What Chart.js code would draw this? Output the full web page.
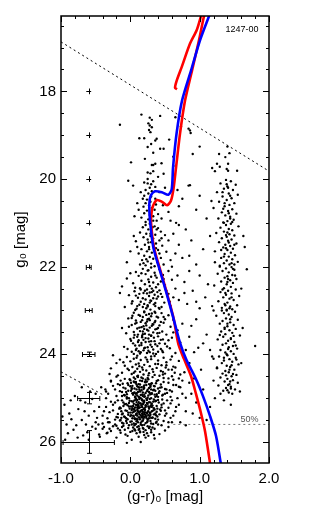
<!DOCTYPE html>
<html>
<head>
<meta charset="utf-8">
<script src="https://cdn.jsdelivr.net/npm/chart.js@4.4.1/dist/chart.umd.min.js"></script>
<style>
  html, body { margin: 0; padding: 0; background: #fff; }
  #wrap { width: 311px; height: 518px; }
</style>
</head>
<body>
<div id="wrap"><canvas id="cmd"></canvas></div>
<script>
// --- axis ranges / ticks ---
const xRange = [-1.0, 2.0];
const yRange = [16.28, 26.48];
const xTickValues = [-1, 0, 1, 2];
const yTickValues = [18, 20, 22, 24, 26];

// --- isochrones (colour, magnitude) ---
const redColor = [1.165,1.150,1.078,1.020,0.948,0.876,0.775,0.693,0.623,0.530,0.436,0.342,0.299,0.306,0.328,0.385,0.457,0.530,0.587,0.623,0.659,0.717,0.789,0.890,0.991,1.063,1.107,1.078,1.020,0.958,0.861,0.742,0.670,0.645,0.674];
const redMag = [26.67,26.49,25.76,25.35,24.91,24.50,24.11,23.77,23.17,22.62,22.10,21.57,21.00,20.77,20.61,20.48,20.52,20.60,20.49,20.22,19.74,18.96,18.21,17.52,16.83,16.28,16.05,15.96,16.28,16.60,16.91,17.44,17.75,17.92,17.95];
const blueColor = [1.323,1.237,1.150,1.049,0.948,0.804,0.717,0.620,0.525,0.429,0.332,0.284,0.274,0.294,0.356,0.453,0.548,0.597,0.616,0.667,0.746,0.876,1.006,1.136,1.179];
const blueMag = [26.67,25.87,25.41,24.96,24.57,24.11,23.74,23.17,22.62,22.10,21.56,20.95,20.57,20.38,20.28,20.30,20.36,20.23,19.74,18.96,18.21,17.52,16.83,16.28,16.10];

// --- dashed selection / completeness lines ---
const upperCut = [[-1.0, 16.87], [2.0, 19.82]];
const lowerCut = [[-1.0, 24.40], [-0.40, 24.92]];
const limit50 = [[0.62, 25.60], [2.0, 25.60]];

// --- photometric error bars at g-r = -0.6 ---
const errColor = -0.6;
const errMag = [18, 19, 20, 21, 22, 23, 24, 25, 26];
const errDx = [0.035, 0.035, 0.035, 0.035, 0.035, 0.05, 0.09, 0.16, 0.37];
const errDy = [0.065, 0.065, 0.065, 0.06, 0.05, 0.04, 0.05, 0.13, 0.26];

// --- stars, (g-r, g) pairs, grouped by region ---
const upperStars = [0.16,18.53,0.28,18.60,0.31,18.65,0.43,18.56,-0.15,18.76,0.26,18.73,0.28,18.78,0.31,18.82,0.27,18.88,0.29,18.93,0.13,19.07,0.20,19.07,0.36,19.12,0.38,19.08,0.65,18.59,0.73,18.80,0.84,18.85,0.86,18.89,0.87,18.95,1.00,19.26,0.43,19.31,0.48,19.31,0.25,19.27,0.62,19.49,0.90,19.43,0.01,19.62,0.21,19.54,0.31,19.68,0.33,19.68,0.36,19.65,0.45,19.64,0.25,19.85,0.29,19.87,0.33,19.82,0.48,19.88,0.64,19.92,-0.03,20.04,1.40,19.26,1.28,19.43,1.37,19.50,1.43,19.41,1.18,19.75,1.22,19.82,1.25,19.65,1.29,19.72,1.39,19.77,1.41,19.65,1.41,19.81,1.54,19.81,0.33,19.40,0.30,19.20,0.56,19.10,0.40,19.95,0.62,19.70];
const msStars20 = [0.04,20.15,0.84,20.15,0.86,20.14,1.00,20.38,0.20,20.08,0.25,20.10,0.30,20.12,0.33,20.05,0.36,20.18,0.28,20.20,0.22,20.25,0.31,20.28,0.26,20.33,0.20,20.38,0.18,20.45,0.24,20.47,0.29,20.52,0.22,20.55,0.27,20.60,0.19,20.63,0.31,20.66,0.35,20.70,0.24,20.72,0.20,20.78,0.28,20.82,0.33,20.85,0.40,20.80,0.16,20.88,0.26,20.92,0.38,20.95,0.22,20.98,0.47,20.60,0.55,20.75,0.12,20.70,0.06,20.85,0.70,20.62,0.45,20.90,0.30,20.40,0.36,20.45,0.42,20.30,0.15,20.30,0.10,20.55,0.58,20.95,0.25,20.00,0.33,20.95,0.50,20.20,0.37,20.58,0.66,21.00];
const msStars21 = [0.28,21.02,0.22,21.05,0.35,21.08,0.18,21.10,0.40,21.12,0.26,21.15,0.31,21.18,0.44,21.20,0.14,21.22,0.23,21.25,0.36,21.27,0.29,21.30,0.50,21.28,0.19,21.33,0.33,21.36,0.25,21.38,0.42,21.40,0.08,21.42,0.30,21.44,0.37,21.47,0.21,21.50,0.46,21.52,0.27,21.55,0.34,21.57,0.16,21.60,0.40,21.62,0.24,21.65,0.31,21.68,0.52,21.66,0.12,21.70,0.36,21.72,0.20,21.75,0.28,21.78,0.44,21.80,0.33,21.82,0.17,21.85,0.25,21.88,0.39,21.90,0.30,21.93,0.48,21.95,0.22,21.97,0.35,21.99,0.05,21.30,0.62,21.25,0.70,21.50,0.58,21.85,0.00,21.65,-0.05,21.90,0.80,21.15,0.65,21.70,0.55,21.40,0.38,21.15,0.27,21.60,0.33,21.48,0.19,21.92,0.42,21.70,0.10,21.55,0.45,21.35,0.29,21.25,0.23,21.83,0.37,21.58,0.14,21.95,0.32,21.10,0.26,21.45,0.41,21.97,0.60,22.00,0.75,21.80,0.88,21.40,0.95,21.95,1.05,21.60];
const msStars22 = [0.30,22.02,0.18,22.05,0.42,22.06,0.25,22.09,0.55,22.10,0.08,22.12,0.35,22.14,0.22,22.17,0.47,22.19,0.12,22.21,0.30,22.23,0.38,22.25,-0.05,22.27,0.26,22.29,0.60,22.30,0.16,22.32,0.44,22.34,0.33,22.36,0.04,22.38,0.21,22.40,0.50,22.42,0.28,22.44,-0.12,22.45,0.37,22.47,0.14,22.49,0.65,22.50,0.24,22.52,0.42,22.54,0.06,22.56,0.31,22.58,0.19,22.60,0.55,22.62,0.35,22.64,-0.02,22.65,0.27,22.67,0.46,22.69,0.11,22.71,0.38,22.73,0.22,22.75,0.70,22.76,0.30,22.78,0.15,22.80,0.49,22.82,0.02,22.84,0.34,22.86,0.25,22.88,0.58,22.90,0.18,22.92,0.41,22.94,0.09,22.96,0.29,22.98,-0.15,22.60,0.78,22.35,0.82,22.85,0.00,22.15,0.62,22.70,0.45,22.92,0.13,22.62,0.36,22.20,0.52,22.55,0.20,22.85,0.27,22.35,0.33,22.72,0.07,22.48,0.40,22.40,0.23,22.95,0.48,22.28,0.16,22.15,0.31,22.50,0.57,22.80,0.10,22.90,0.44,22.62,0.26,22.08,0.68,22.20,0.90,22.55,1.00,22.95,0.85,22.10,-0.08,22.92,0.36,22.90,0.21,22.55,0.28,22.82,0.39,22.58];
const msStars23 = [0.20,23.02,0.35,23.03,0.05,23.05,0.45,23.06,0.27,23.08,0.12,23.10,0.55,23.11,0.30,23.13,0.18,23.15,0.40,23.16,-0.03,23.18,0.25,23.20,0.62,23.21,0.08,23.23,0.36,23.24,0.15,23.26,0.48,23.28,0.22,23.29,0.32,23.31,0.02,23.33,0.42,23.34,0.19,23.36,0.58,23.37,0.28,23.39,0.10,23.41,0.38,23.42,0.24,23.44,0.68,23.45,0.14,23.47,0.46,23.48,0.33,23.50,-0.06,23.52,0.21,23.53,0.52,23.55,0.06,23.56,0.30,23.58,0.40,23.59,0.17,23.61,0.60,23.62,0.26,23.64,0.00,23.65,0.44,23.67,0.12,23.68,0.35,23.70,0.22,23.72,0.72,23.73,0.04,23.75,0.50,23.76,0.29,23.78,0.16,23.79,0.39,23.81,-0.09,23.83,0.25,23.84,0.57,23.86,0.09,23.87,0.33,23.89,0.19,23.91,0.46,23.92,0.02,23.94,0.28,23.95,0.65,23.97,0.14,23.98,0.37,23.99,0.23,23.10,0.31,23.35,0.11,23.55,0.42,23.75,0.26,23.92,0.07,23.30,0.50,23.20,0.18,23.48,0.34,23.62,0.21,23.85,0.55,23.68,0.03,23.12,0.40,23.40,0.27,23.55,0.13,23.80,0.47,23.95,0.36,23.05,0.16,23.38,0.30,23.70,0.08,23.90,0.62,23.50,0.24,23.25,0.44,23.88,0.19,23.67,0.75,23.30,0.80,23.90,-0.12,23.40,0.85,23.60,0.95,23.20,1.05,23.75,0.92,23.95,0.28,23.22,0.11,23.72,0.39,23.52,0.53,23.82,0.05,23.62,0.33,23.98,0.20,23.42,0.48,23.15,0.15,23.95];
const msStarsFaint = [0.15,22.52,0.33,22.55,0.24,22.61,0.08,22.66,0.40,22.68,0.18,22.72,0.29,22.77,0.03,22.79,0.36,22.83,0.13,22.87,0.25,22.91,0.42,22.96,0.07,22.99,0.20,23.04,0.31,23.07,0.14,23.12,0.38,23.14,0.02,23.17,0.27,23.19,0.17,23.22,0.44,23.26,0.09,23.28,0.33,23.32,0.23,23.34,-0.02,23.37,0.13,23.39,0.36,23.43,0.26,23.46,0.05,23.49,0.42,23.51,0.18,23.54,0.30,23.57,0.10,23.60,0.22,23.63,0.47,23.66,0.01,23.69,0.27,23.71,0.16,23.74,0.36,23.77,0.07,23.80,0.31,23.83,0.20,23.86,-0.04,23.88,0.12,23.93,0.40,23.94,0.24,23.97,0.05,23.99,0.17,23.58,0.35,23.27,0.28,22.59];
const gapStars = [0.75,20.45,0.95,20.70,1.10,20.90,0.70,21.05,1.15,21.30,0.85,21.75,1.00,22.20,0.78,22.60,1.12,22.40,0.95,22.80,1.20,23.00,0.88,23.35,1.10,23.55,0.98,23.85,1.18,24.05,0.85,24.20,1.02,24.35,0.92,24.55,1.20,24.60,1.05,24.80,0.88,24.90,0.95,25.10,1.15,25.20,0.80,25.30,1.00,25.45,0.72,24.75,1.25,24.30,0.68,20.25,1.22,21.90,1.08,22.70,1.15,23.90,0.90,25.35,1.30,24.90,1.10,25.50,1.80,23.81,1.60,24.20,1.68,22.06,1.65,21.55];
const dwarfStars = [1.38,20.02,1.45,20.05,1.30,20.10,1.52,20.13,1.40,20.17,1.35,20.22,1.48,20.25,1.25,20.30,1.42,20.33,1.55,20.36,1.33,20.40,1.46,20.44,1.39,20.48,1.28,20.52,1.50,20.55,1.43,20.59,1.36,20.62,1.20,20.66,1.47,20.69,1.41,20.73,1.32,20.76,1.53,20.79,1.37,20.83,1.44,20.86,1.27,20.90,1.49,20.93,1.40,20.96,1.34,20.99,1.45,21.02,1.38,21.05,1.56,21.08,1.30,21.11,1.42,21.14,1.47,21.17,1.35,21.20,1.24,21.23,1.43,21.26,1.50,21.29,1.39,21.32,1.32,21.35,1.46,21.38,1.41,21.41,1.28,21.44,1.53,21.47,1.37,21.50,1.44,21.53,1.34,21.56,1.48,21.59,1.40,21.62,1.22,21.65,1.45,21.68,1.36,21.71,1.51,21.74,1.42,21.77,1.31,21.80,1.47,21.83,1.39,21.86,1.55,21.89,1.35,21.92,1.43,21.95,1.29,21.98,1.46,22.01,1.38,22.04,1.50,22.07,1.33,22.10,1.42,22.13,1.26,22.16,1.47,22.19,1.40,22.22,1.36,22.25,1.53,22.28,1.44,22.31,1.31,22.34,1.48,22.37,1.39,22.40,1.21,22.43,1.45,22.46,1.35,22.49,1.52,22.52,1.41,22.55,1.30,22.58,1.46,22.61,1.38,22.64,1.57,22.67,1.34,22.70,1.43,22.73,1.49,22.76,1.27,22.79,1.40,22.82,1.36,22.85,1.54,22.88,1.44,22.91,1.32,22.94,1.47,22.97,1.39,23.00,1.51,23.03,1.35,23.06,1.42,23.09,1.24,23.12,1.46,23.15,1.38,23.18,1.55,23.21,1.33,23.24,1.44,23.27,1.29,23.30,1.49,23.33,1.40,23.36,1.36,23.39,1.52,23.42,1.43,23.45,1.31,23.48,1.47,23.51,1.37,23.54,1.58,23.57,1.34,23.60,1.45,23.63,1.26,23.66,1.41,23.69,1.50,23.72,1.38,23.75,1.33,23.78,1.48,23.81,1.42,23.84,1.54,23.87,1.30,23.90,1.45,23.93,1.37,23.96,1.49,23.99,1.40,24.02,1.28,24.05,1.52,24.08,1.43,24.11,1.35,24.14,1.47,24.17,1.32,24.20,1.56,24.23,1.39,24.26,1.44,24.29,1.25,24.32,1.50,24.35,1.37,24.38,1.42,24.41,1.33,24.44,1.53,24.47,1.46,24.50,1.30,24.53,1.40,24.56,1.48,24.59,1.36,24.62,1.55,24.65,1.43,24.68,1.27,24.71,1.45,24.74,1.38,24.77,1.51,24.80,1.34,24.83,1.42,24.87,1.47,24.90,1.41,20.20,1.36,20.55,1.44,20.90,1.40,21.22,1.38,21.58,1.46,21.92,1.41,22.28,1.37,22.60,1.43,22.95,1.40,23.30,1.45,23.65,1.39,24.00,1.43,24.35,1.41,24.70,1.35,21.00,1.50,21.95,1.32,23.00,1.48,24.45,1.29,22.00,1.52,23.80,1.60,22.50,1.62,23.40,1.18,22.90,1.20,24.10,1.63,21.30,1.17,20.50,1.58,24.85,1.22,25.00,1.35,25.05,1.45,25.15];
const dwarfStarsExtra = [1.39,20.12,1.44,20.38,1.34,20.68,1.47,20.98,1.38,21.28,1.42,21.45,1.35,21.77,1.48,22.05,1.40,22.35,1.33,22.52,1.46,22.70,1.39,22.98,1.44,23.20,1.36,23.42,1.49,23.58,1.41,23.88,1.35,24.08,1.46,24.25,1.38,24.48,1.44,24.62,1.40,24.82,1.31,21.62,1.51,22.20,1.29,23.56,1.53,24.12,1.42,20.78,1.37,22.88,1.45,24.78,1.33,20.30,1.50,21.50];
const blobStars24 = [-0.25,24.02,0.10,24.03,0.35,24.04,0.60,24.05,-0.05,24.06,0.22,24.07,0.48,24.08,0.05,24.10,0.30,24.11,-0.15,24.12,0.15,24.13,0.40,24.14,0.70,24.15,0.00,24.16,0.25,24.17,0.52,24.18,-0.20,24.20,0.12,24.21,0.36,24.22,0.08,24.23,0.20,24.24,0.45,24.25,-0.08,24.26,0.28,24.27,0.62,24.28,0.03,24.29,0.17,24.30,0.38,24.31,-0.28,24.32,0.10,24.33,0.32,24.34,0.55,24.35,-0.02,24.36,0.23,24.37,0.44,24.38,0.07,24.39,0.14,24.40,0.78,24.41,-0.12,24.42,0.27,24.43,0.50,24.44,0.02,24.45,0.19,24.46,0.35,24.47,-0.18,24.48,0.11,24.49,0.42,24.49,0.65,24.30,0.85,24.20,-0.30,24.45,0.30,24.05,0.18,24.35,0.05,24.42,0.24,24.12,0.47,24.46,-0.10,24.18,0.33,24.40,0.58,24.12,0.13,24.27,0.40,24.22,0.72,24.46,0.09,24.08,0.26,24.48,-0.04,24.33,0.51,24.30];
const blobStars245 = [0.10,24.50,-0.20,24.51,0.32,24.52,0.05,24.53,0.48,24.54,0.18,24.55,-0.08,24.56,0.26,24.57,0.62,24.58,0.00,24.59,0.14,24.60,0.38,24.61,-0.28,24.62,0.08,24.63,0.22,24.64,0.55,24.65,-0.04,24.66,0.30,24.67,0.12,24.68,0.44,24.69,-0.15,24.70,0.20,24.71,0.03,24.72,0.35,24.73,0.70,24.74,0.16,24.75,-0.10,24.76,0.27,24.77,0.06,24.78,0.50,24.79,-0.22,24.80,0.13,24.81,0.33,24.82,0.01,24.83,0.24,24.84,0.60,24.85,-0.06,24.86,0.18,24.87,0.41,24.88,0.09,24.89,-0.32,24.90,0.29,24.91,0.04,24.92,0.15,24.93,0.46,24.94,-0.12,24.95,0.21,24.96,0.36,24.97,0.07,24.98,0.80,24.99,0.11,24.52,0.25,24.54,-0.01,24.57,0.40,24.59,0.17,24.61,0.06,24.64,0.31,24.66,-0.18,24.68,0.23,24.70,0.10,24.73,0.45,24.75,0.02,24.77,0.19,24.79,0.34,24.81,-0.03,24.83,0.14,24.85,0.27,24.86,0.53,24.88,0.08,24.90,0.20,24.92,-0.08,24.94,0.38,24.95,0.12,24.97,0.25,24.99,0.66,24.70,0.75,24.90,0.58,24.97,-0.25,24.72,0.42,24.84,0.16,24.53,0.29,24.74,0.05,24.88,0.22,24.58,-0.14,24.60,0.35,24.92,0.09,24.69,0.48,24.63,0.18,24.95,0.01,24.65,0.31,24.89,0.13,24.76,0.24,24.62,-0.05,24.91,0.40,24.78,0.07,24.56,0.85,24.65,-0.35,24.85,0.60,24.50,0.70,24.55];
const blobStars25 = [0.15,25.00,-0.05,25.01,0.28,25.02,0.08,25.03,0.40,25.04,-0.18,25.05,0.20,25.06,0.02,25.07,0.33,25.08,0.12,25.09,-0.10,25.10,0.24,25.11,0.48,25.12,0.05,25.13,0.18,25.14,-0.25,25.15,0.30,25.16,0.10,25.17,0.38,25.18,-0.02,25.19,0.22,25.20,0.14,25.21,0.55,25.22,-0.14,25.23,0.27,25.24,0.06,25.25,0.35,25.26,0.17,25.27,-0.07,25.28,0.44,25.29,0.11,25.30,0.25,25.31,-0.30,25.32,0.03,25.33,0.20,25.34,0.36,25.35,0.09,25.36,-0.12,25.37,0.29,25.38,0.15,25.39,0.50,25.40,0.00,25.41,0.23,25.42,-0.20,25.43,0.12,25.44,0.32,25.45,0.06,25.46,0.19,25.47,-0.04,25.48,0.40,25.49,0.13,25.02,0.24,25.04,-0.01,25.06,0.36,25.07,0.09,25.09,0.19,25.11,0.31,25.13,-0.08,25.14,0.16,25.16,0.04,25.18,0.26,25.19,0.45,25.21,0.10,25.22,-0.16,25.24,0.21,25.26,0.33,25.28,0.07,25.29,0.18,25.31,-0.03,25.33,0.28,25.34,0.13,25.36,0.42,25.37,0.01,25.39,0.22,25.40,-0.09,25.42,0.16,25.43,0.30,25.45,0.08,25.47,0.25,25.48,-0.22,25.49,0.17,25.03,0.06,25.05,0.29,25.10,0.14,25.12,-0.04,25.16,0.23,25.17,0.11,25.20,0.34,25.23,0.19,25.25,0.02,25.27,0.26,25.30,0.12,25.32,-0.11,25.35,0.21,25.37,0.37,25.39,0.05,25.41,0.17,25.44,0.27,25.46,-0.06,25.46,0.10,25.48,0.60,25.05,0.65,25.30,-0.35,25.20,-0.40,25.40,0.52,25.35,0.58,25.45,-0.28,25.08,0.46,25.03,0.70,25.15,-0.33,25.46,0.20,25.09,0.08,25.38,0.31,25.20,-0.13,25.45,0.15,25.29,0.24,25.35,0.03,25.23,0.39,25.42,0.11,25.14,0.18,25.41];
const blobStars255 = [0.10,25.50,-0.15,25.51,0.25,25.52,0.02,25.53,0.38,25.54,-0.30,25.55,0.15,25.56,-0.05,25.57,0.30,25.58,0.08,25.59,-0.22,25.60,0.20,25.61,0.45,25.62,-0.10,25.63,0.12,25.64,0.28,25.65,-0.38,25.66,0.04,25.67,0.18,25.68,-0.18,25.69,0.35,25.70,0.06,25.71,-0.08,25.72,0.22,25.73,0.50,25.74,-0.28,25.75,0.14,25.76,0.00,25.77,0.30,25.78,-0.14,25.79,0.09,25.80,0.42,25.82,-0.45,25.83,0.20,25.84,-0.04,25.86,0.12,25.88,-0.20,25.90,0.35,25.92,0.02,25.95,0.55,25.66,0.60,25.55,-0.50,25.70,0.17,25.53,-0.02,25.62,0.32,25.67,0.07,25.74,-0.25,25.64,0.24,25.80,-0.12,25.56,0.40,25.60,0.26,25.86,-0.33,25.79,0.13,25.70,0.48,25.52,-0.07,25.83,0.05,25.58,0.19,25.77,-0.40,25.58,0.34,25.84,0.15,26.00,-0.05,26.02,0.22,25.90];
const blobCore = [0.05,24.62,0.21,24.63,0.37,24.66,-0.11,24.67,0.14,24.69,0.29,24.71,0.00,24.73,0.19,24.74,0.43,24.76,-0.07,24.78,0.09,24.80,0.25,24.81,0.36,24.83,-0.15,24.84,0.11,24.86,0.22,24.88,0.03,24.89,0.31,24.90,0.17,24.92,-0.09,24.93,0.26,24.94,0.07,24.96,0.40,24.97,0.13,24.98,-0.02,25.00,0.23,25.01,0.34,25.03,0.10,25.04,-0.12,25.05,0.19,25.07,0.04,25.08,0.27,25.09,0.41,25.10,0.15,25.12,-0.06,25.13,0.08,25.15,0.22,25.16,0.32,25.17,0.01,25.19,0.17,25.20,-0.15,25.21,0.27,25.22,0.12,25.23,0.39,25.24,0.05,25.26,0.21,25.27,-0.05,25.29,0.31,25.30,0.14,25.31,0.00,25.33,0.24,25.34,0.09,25.35,-0.18,25.36,0.34,25.37,0.18,25.38,0.04,25.40,0.28,25.41,-0.08,25.43,0.13,25.44,0.23,25.45,0.36,25.47,0.07,25.48,-0.14,25.50,0.18,25.51,0.29,25.52,0.00,25.54,0.11,25.55,0.22,25.57,-0.10,25.58,0.33,25.59,0.15,25.60,0.06,25.62,-0.20,25.63,0.25,25.64,0.10,25.66,-0.03,25.68,0.19,25.70,0.30,25.72,-0.15,25.73,0.03,25.75,0.14,25.78,0.08,24.65,0.27,24.68,-0.03,24.70,0.34,24.72,0.12,24.75,0.20,24.77,0.02,24.79,0.30,24.80,0.16,24.82,-0.12,24.86,0.06,24.87,0.28,24.88,0.38,24.91,0.10,24.94,0.20,24.97,-0.05,24.98,0.30,25.00,0.08,25.01,0.17,25.05,0.37,25.06,-0.02,25.11,0.25,25.13,0.12,25.18,0.29,25.19,-0.10,25.18,0.07,25.21,0.20,25.23,0.43,25.26,0.16,25.28,-0.01,25.24,0.10,25.27,0.29,25.33,0.21,25.32,0.05,25.31,-0.13,25.30,0.17,25.35,0.38,25.31,0.26,25.39,0.10,25.40,-0.03,25.38,0.20,25.43,0.14,25.48,0.32,25.44,0.03,25.46,-0.18,25.44,0.24,25.55,0.09,25.53,-0.06,25.52,0.37,25.56,0.17,25.62,0.02,25.60,0.27,25.68,-0.12,25.66,0.12,25.72,0.45,25.15,0.50,25.28,0.47,24.92,-0.22,25.10,-0.25,25.28,-0.20,24.95,0.52,24.80,-0.28,24.60,0.55,25.55,-0.30,25.70,0.55,24.55,0.62,24.70,0.50,24.90,0.68,25.00,0.58,25.12,0.64,24.42,0.75,24.60,0.52,24.25,0.60,24.35,0.47,24.40,0.53,25.05,0.66,25.20,0.62,25.40,0.72,25.55,0.80,25.62,0.57,24.82];
const blueStars = [-0.95,25.15,-0.88,25.35,-0.92,25.60,-0.80,24.95,-0.75,25.25,-0.70,25.50,-0.82,25.72,-0.65,25.10,-0.60,25.40,-0.55,25.65,-0.68,25.85,-0.50,24.90,-0.45,25.20,-0.48,25.45,-0.40,25.70,-0.42,24.75,-0.35,25.00,-0.38,25.30,-0.32,25.55,-0.58,24.85,-0.72,25.05,-0.85,25.48,-0.62,25.78,-0.52,25.30,-0.98,25.42,-0.90,25.80,-0.78,25.62,-0.44,25.88,-0.66,25.30,-0.55,25.02,-0.36,24.80,-0.46,25.60,-0.70,24.75,-0.86,25.05,-0.60,25.95,-0.34,25.80,-0.94,25.95,-0.76,25.90,-0.50,25.55,-0.64,25.60];

const FONT = '"Liberation Sans", Arial, Helvetica, sans-serif';

function pairs(flat) {
  const out = [];
  for (let i = 0; i < flat.length; i += 2) out.push({ x: flat[i], y: flat[i + 1] });
  return out;
}
function zipXY(xs, ys) {
  return xs.map((v, i) => ({ x: v, y: ys[i] }));
}

const stars = [].concat(
  pairs(upperStars), pairs(msStars20), pairs(msStars21), pairs(msStars22), pairs(msStars23),
  pairs(msStarsFaint), pairs(gapStars), pairs(dwarfStars), pairs(dwarfStarsExtra),
  pairs(blobStars24), pairs(blobStars245), pairs(blobStars25), pairs(blobStars255),
  pairs(blobCore), pairs(blueStars)
);

// frame, inward ticks, error bars and labels
const framePlugin = {
  id: "framePlugin",
  afterDatasetsDraw(chart) {
    const { ctx, chartArea: a, scales } = chart;
    const xs = scales.x, ys = scales.y;
    ctx.save();

    // error bars: plain crosses when small, capped when larger
    ctx.strokeStyle = "#000";
    ctx.lineWidth = 1;
    errMag.forEach((m, i) => {
      const cx = Math.round(xs.getPixelForValue(errColor)) + 0.5;
      const cy = Math.round(ys.getPixelForValue(m)) + 0.5;
      const x0 = xs.getPixelForValue(errColor - errDx[i]);
      const x1 = xs.getPixelForValue(errColor + errDx[i]);
      const y0 = ys.getPixelForValue(m - errDy[i]);
      const y1 = ys.getPixelForValue(m + errDy[i]);
      ctx.beginPath();
      ctx.moveTo(x0, cy); ctx.lineTo(x1, cy);
      ctx.moveTo(cx, y0); ctx.lineTo(cx, y1);
      if (i >= 4) {
        ctx.moveTo(x0, cy - 2.5); ctx.lineTo(x0, cy + 2.5);
        ctx.moveTo(x1, cy - 2.5); ctx.lineTo(x1, cy + 2.5);
      }
      if (i >= 6) {
        ctx.moveTo(cx - 2.5, y0); ctx.lineTo(cx + 2.5, y0);
        ctx.moveTo(cx - 2.5, y1); ctx.lineTo(cx + 2.5, y1);
      }
      ctx.stroke();
    });

    // frame
    ctx.lineWidth = 1.5;
    ctx.strokeRect(a.left, a.top, a.right - a.left, a.bottom - a.top);

    // ticks pointing inward on all four sides
    ctx.lineWidth = 1;
    ctx.beginPath();
    for (let k = -5; k <= 10; k++) {
      const px = Math.round(xs.getPixelForValue(k / 5)) + 0.5;
      const len = k % 5 === 0 ? 6 : 3;
      ctx.moveTo(px, a.bottom); ctx.lineTo(px, a.bottom - len);
      ctx.moveTo(px, a.top); ctx.lineTo(px, a.top + len);
    }
    for (let k = 33; k <= 52; k++) {
      const v = k / 2;
      const py = Math.round(ys.getPixelForValue(v)) + 0.5;
      const len = v % 2 === 0 ? 6 : 3;
      ctx.moveTo(a.left, py); ctx.lineTo(a.left + len, py);
      ctx.moveTo(a.right, py); ctx.lineTo(a.right - len, py);
    }
    ctx.stroke();

    // field name and completeness label
    ctx.fillStyle = "#000";
    ctx.font = "9px " + FONT;
    ctx.textAlign = "right";
    ctx.textBaseline = "middle";
    ctx.fillText("1247-00", xs.getPixelForValue(1.85), ys.getPixelForValue(16.58));
    ctx.fillStyle = "#555";
    ctx.fillText("50%", xs.getPixelForValue(1.85), ys.getPixelForValue(25.48));
    ctx.restore();
  }
};

const dashed = (pts, color) => ({
  type: "line",
  data: pts.map(p => ({ x: p[0], y: p[1] })),
  borderColor: color,
  borderWidth: 1,
  borderDash: [2, 3],
  pointRadius: 0,
  fill: false,
  order: 2
});

new Chart(document.getElementById("cmd"), {
  type: "scatter",
  data: {
    datasets: [
      {
        label: "stars",
        data: stars,
        backgroundColor: "#000",
        borderWidth: 0,
        pointRadius: 1.2,
        pointHoverRadius: 1.2,
        order: 5
      },
      dashed(upperCut, "#000"),
      dashed(lowerCut, "#000"),
      dashed(limit50, "#777"),
      {
        type: "line",
        label: "red",
        data: zipXY(redColor, redMag),
        borderColor: "#ff0000",
        borderWidth: 2.6,
        pointRadius: 0,
        tension: 0.25,
        fill: false,
        order: 1
      },
      {
        type: "line",
        label: "blue",
        data: zipXY(blueColor, blueMag),
        borderColor: "#0000ff",
        borderWidth: 2.6,
        pointRadius: 0,
        tension: 0.25,
        fill: false,
        order: 0
      }
    ]
  },
  options: {
    responsive: true,
    maintainAspectRatio: false,
    animation: false,
    events: [],
    layout: { padding: { top: 16, right: 42, left: 0, bottom: 0 } },
    plugins: { legend: { display: false }, tooltip: { enabled: false } },
    scales: {
      x: {
        type: "linear",
        min: xRange[0],
        max: xRange[1],
        afterFit: (s) => { s.height = 55; },
        afterBuildTicks: (s) => { s.ticks = xTickValues.map(v => ({ value: v })); },
        grid: { display: false, drawTicks: false },
        border: { display: false },
        ticks: {
          padding: 7,
          color: "#000",
          font: { family: FONT, size: 15 },
          callback: (v) => Number(v).toFixed(1)
        },
        title: {
          display: true,
          text: "(g-r)\u2080 [mag]",
          color: "#000",
          font: { family: FONT, size: 15 },
          padding: { top: 0, bottom: 12 }
        }
      },
      y: {
        type: "linear",
        reverse: true,
        min: yRange[0],
        max: yRange[1],
        afterFit: (s) => { s.width = 61; },
        afterBuildTicks: (s) => { s.ticks = yTickValues.map(v => ({ value: v })); },
        grid: { display: false, drawTicks: false },
        border: { display: false },
        ticks: {
          padding: 5,
          color: "#000",
          font: { family: FONT, size: 15 },
          callback: (v) => String(v)
        },
        title: {
          display: true,
          text: "g\u2080 [mag]",
          color: "#000",
          font: { family: FONT, size: 15 },
          padding: { top: 12, bottom: 0 }
        }
      }
    }
  },
  plugins: [framePlugin]
});
</script>
</body>
</html>
